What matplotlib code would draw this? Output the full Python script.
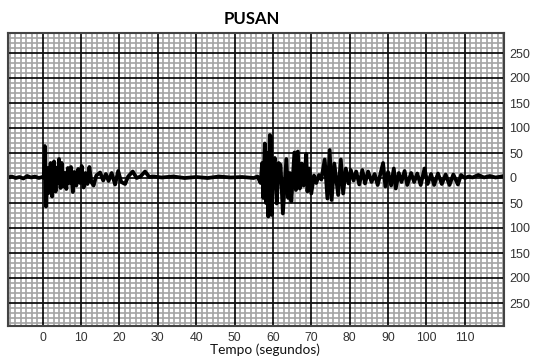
import matplotlib
matplotlib.use("Agg")
import matplotlib.pyplot as plt
from matplotlib.ticker import MultipleLocator, AutoMinorLocator, FuncFormatter

# Seismogram trace: time (s) and amplitude
t = [-9, -8, -7, -6, -5, -4, -3, -2, -1, 0, 0.3, 0.6, 0.9, 1.3, 1.6, 2.1, 2.5, 3.0, 3.4, 3.7, 4.0,
     4.3, 4.7, 5.0, 5.4, 5.8, 6.2, 6.6, 7.0, 7.4, 7.9, 8.3, 8.8, 9.3, 9.8, 10.2, 10.7,
     11.2, 11.7, 12.2, 12.7, 13.3, 14.0, 15.0, 15.8, 16.5, 17.2, 18.0, 18.9, 19.7, 20.5,
     21.5, 22.3, 23.5, 24.5, 25.5, 26.7, 27.8, 29, 31, 34, 37, 40, 43, 46, 49, 52, 55,
     56, 56.8, 57.2, 57.5, 57.9, 58.2, 58.5, 58.8, 59.2, 59.5, 59.7, 60.0, 60.5, 61.0,
     61.5, 62.0, 62.6, 63.5, 64.0, 64.4, 64.8, 65.6, 66.0, 66.5, 67.0, 67.5, 68.0, 68.7,
     69.0, 69.5, 70.0, 70.7, 71.3, 72.0, 72.6, 73.5, 74.2, 74.8, 75.3, 76.0, 77.0, 77.7,
     78.3, 79.0, 79.7, 80.3, 81.0, 81.7, 82.5, 83.3, 84.0, 84.8, 85.7, 86.5, 87.3, 88.7,
     89.3, 90.0, 90.8, 91.5, 92.0, 92.8, 93.5, 94.3, 95.0, 96.0, 96.8, 97.6, 98.5, 99.5,
     100.3, 101.2, 102, 103, 104, 105, 106, 107, 108.2, 109, 110, 111, 112, 113.5, 115,
     116.5, 118, 120.2]
amp = [1, 3, 0, 2, -1, 4, 1, 3, 0, 2, 0, 64, -57, 20, -30, 30, -37, 33, -27, 20, -10,
       38, -20, 30, -17, 10, -22, 20, -10, 22, -28, 12, -15, 18, -10, 24, -19,
       10, -12, 22, -8, -15, 5, 11, -5, 8, -6, 10, -13, 14, -8,
       -12, 3, 13, 0, 3, 13, 2, 3, 1, 3, 0, 2, 0, 3, 1, 2, 0,
       3, -10, 30, -40, 69, -50, 50, -77, 86, 83, -74, 20, 40, -51,
       30, 26, -71, 38, -40, 10, -47, 51, -24, 53, -21, 29, -15, 48,
       -27, 19, -31, 5, -10, 6, -3, 37, -41, 56, -44, 29, -34, 37,
       -31, 19, -11, 16, -5, 13, -13, 16, -11, 13, -8, 8, -14, 30,
       -17, 12, -15, 19, -21, 10, -8, 14, -14, 10, -8, 9, -14, 19,
       -12, 8, -14, 9, -12, 7, -14, 7, -13, 6, 0, 3, 1, 6, 1,
       4, 1, 4]

x_ticks = list(range(0, 111, 10))
y_ticks = list(range(-250, 251, 50))

fig = plt.figure(figsize=(5.36, 3.56), dpi=100)
ax = fig.add_axes([8/536, 1-326/356, 496/536, 293/356])

ax.set_xlim(-9, 120.2)
ax.set_ylim(-296, 290)
ax.set_xticks(x_ticks)
ax.set_yticks(y_ticks)
ax.xaxis.set_minor_locator(AutoMinorLocator(7))
ax.yaxis.set_minor_locator(MultipleLocator(10))
ax.grid(which="minor", color="#a3a3a3", lw=1.2, zorder=0)
ax.set_axisbelow(True)

# major grid lines drawn above the minor ones
for xv in x_ticks:
    ax.axvline(xv, color="#111111", lw=1.3, zorder=1)
for yv in y_ticks:
    ax.axhline(yv, color="#111111", lw=1.3, zorder=1)

ax.plot(t, amp, color="black", lw=2.7, solid_joinstyle="round", zorder=3)

ax.yaxis.tick_right()
ax.yaxis.set_major_formatter(FuncFormatter(lambda v, p: f"{abs(int(v))}"))
ax.tick_params(which="both", length=0)
ax.tick_params(axis="x", pad=4, labelsize=8.8, labelcolor="#333333")
ax.tick_params(axis="y", pad=4, labelsize=9, labelcolor="#333333")
for lab in ax.get_xticklabels() + ax.get_yticklabels():
    lab.set_family("Liberation Sans")

for s in ax.spines.values():
    s.set_color("#444444")
    s.set_linewidth(1.5)
    s.set_zorder(4)

fig.text(252/536, 1-19/356, "PUSAN", ha="center", va="center",
         fontsize=12, fontweight="bold", family="Lato")
fig.text(265/536, 1-350/356, "Tempo (segundos)", ha="center", va="center",
         fontsize=9.8, family="Lato", color="#111111")

fig.savefig("out.png", dpi=100)
